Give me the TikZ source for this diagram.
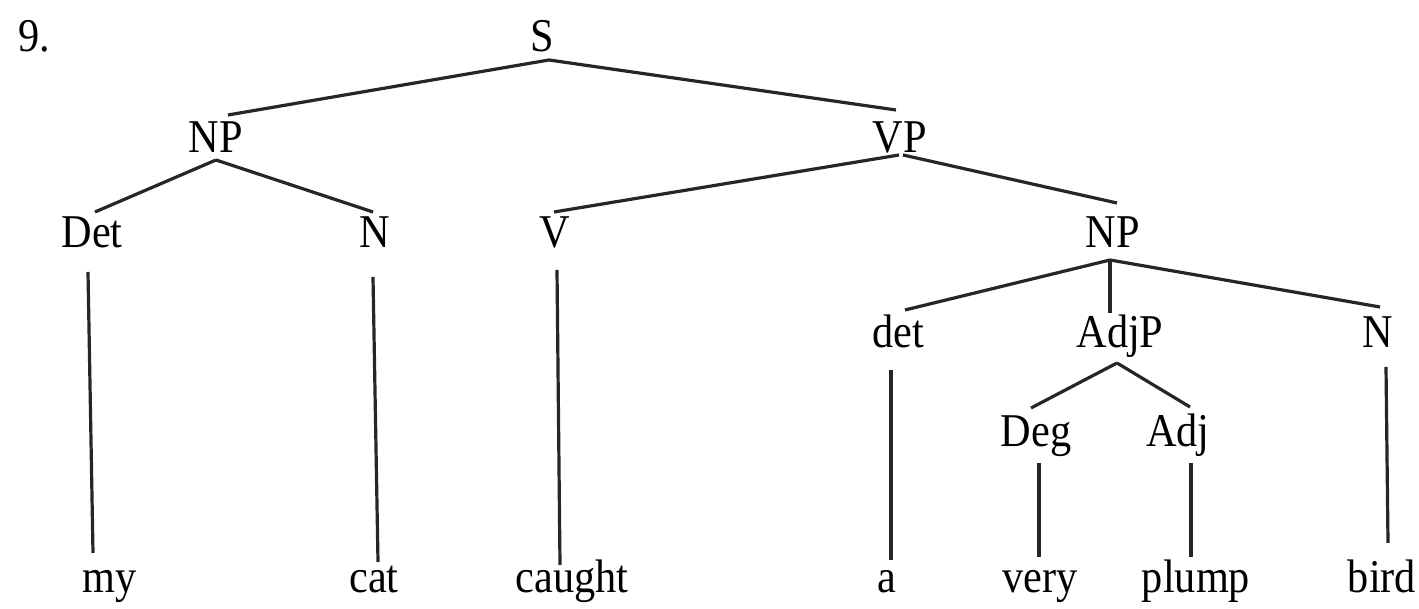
\documentclass[tikz,border=0pt]{standalone}
\usepackage{fontspec}
\setmainfont{Liberation Serif}[FakeStretch=0.9]
\begin{document}
\begin{tikzpicture}[x=1pt,y=1pt,
  lab/.style={anchor=base,inner sep=0pt,font=\fontsize{47}{50}\selectfont,text=black},
  edge/.style={draw=black!85,line width=3.2pt}]
\useasboundingbox (0,0) rectangle (1419,609);
\node[lab,anchor=base west] (nine) at (18,557) {9.};
\node[lab] (S) at (542,557) {S};
\node[lab] (NPa) at (216,456) {NP};
\node[lab] (VP) at (900,456) {VP};
\node[lab] (Det) at (92,361) {Det};
\node[lab] (Na) at (375,361) {N};
\node[lab] (V) at (555,361) {V};
\node[lab] (NPb) at (1113,361) {NP};
\node[lab] (deta) at (898,261) {det};
\node[lab] (AdjP) at (1120,261) {AdjP};
\node[lab] (Nb) at (1378,261) {N};
\node[lab] (Deg) at (1036,162) {Deg};
\node[lab] (Adj) at (1178,162) {Adj};
\node[lab] (my) at (110,16) {my};
\node[lab] (cat) at (374,16) {cat};
\node[lab] (caught) at (572,16) {caught};
\node[lab] (a) at (887,16) {a};
\node[lab] (very) at (1040,16) {very};
\node[lab] (plump) at (1196,16) {plump};
\node[lab] (bird) at (1382,16) {bird};
% branches
\draw[edge] ([shift={(7,-8)}]S.base) -- ([shift={(12,38)}]NPa.base);
\draw[edge] ([shift={(7,-8)}]S.base) -- ([shift={(-4,43)}]VP.base);
\draw[edge] ([shift={(0,-7)}]NPa.base) -- ([shift={(3,36)}]Det.base);
\draw[edge] ([shift={(0,-7)}]NPa.base) -- ([shift={(-2,36)}]Na.base);
\draw[edge] ([shift={(-1,-2)}]VP.base) -- ([shift={(-1,36)}]V.base);
\draw[edge] ([shift={(3,-2)}]VP.base) -- ([shift={(4,45)}]NPb.base);
\draw[edge] ([shift={(-3,-12)}]NPb.base) -- ([shift={(7,38)}]deta.base);
\draw[edge] ([shift={(-3,-12)}]NPb.base) -- ([shift={(-10,35)}]AdjP.base);
\draw[edge] ([shift={(-3,-12)}]NPb.base) -- ([shift={(2,41)}]Nb.base);
\draw[edge] ([shift={(-3,-15)}]AdjP.base) -- ([shift={(-5,39)}]Deg.base);
\draw[edge] ([shift={(-3,-15)}]AdjP.base) -- ([shift={(12,40)}]Adj.base);
% terminals
\draw[edge] ([shift={(-4,-24)}]Det.base) -- ([shift={(-17,40)}]my.base);
\draw[edge] ([shift={(-2,-29)}]Na.base) -- ([shift={(4,31)}]cat.base);
\draw[edge] ([shift={(2,-22)}]V.base) -- ([shift={(-12,28)}]caught.base);
\draw[edge] ([shift={(-7,-22)}]deta.base) -- ([shift={(4,33)}]a.base);
\draw[edge] ([shift={(3,-16)}]Deg.base) -- ([shift={(-1,36)}]very.base);
\draw[edge] ([shift={(13,-16)}]Adj.base) -- ([shift={(-5,36)}]plump.base);
\draw[edge] ([shift={(8,-19)}]Nb.base) -- ([shift={(6,50)}]bird.base);
\end{tikzpicture}
\end{document}
